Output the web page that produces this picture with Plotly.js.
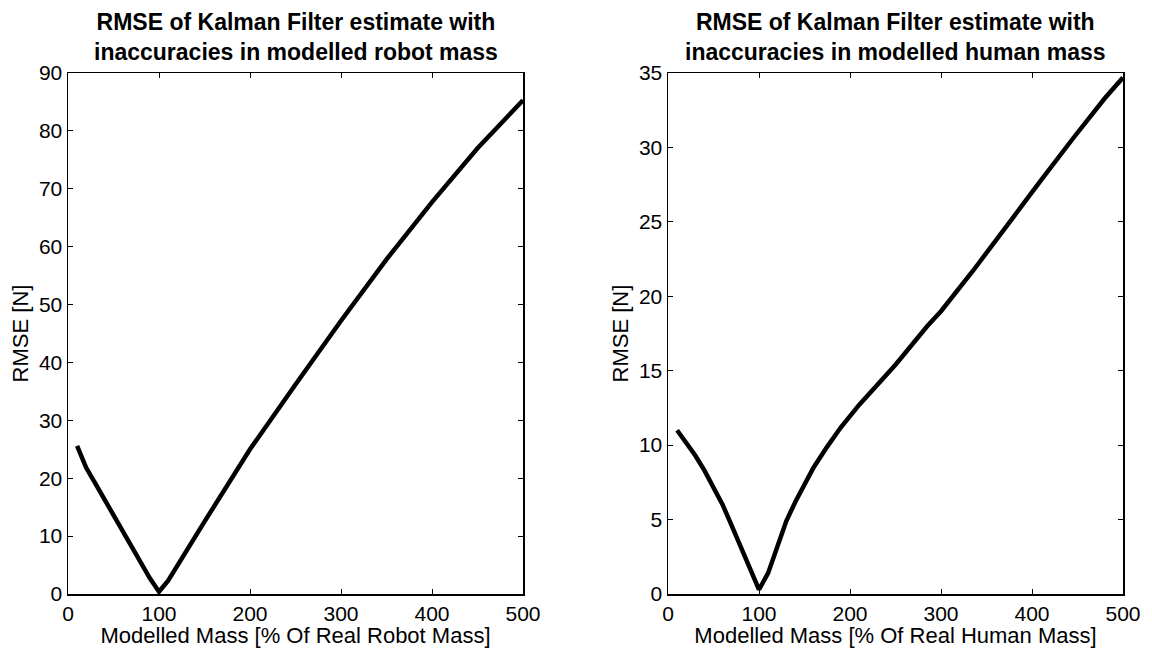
<!DOCTYPE html>
<html>
<head>
<meta charset="utf-8">
<script src="https://cdn.plot.ly/plotly-3.0.1.min.js"></script>
<style>html,body{margin:0;padding:0;background:#fff;}#chart{width:1152px;height:648px;}</style>
</head>
<body>
<div id="chart"></div>
<script>
// Left: robot mass
const robotMass = [10, 20, 30, 40, 50, 60, 70, 80, 90, 100, 110, 150, 200, 250, 300, 350, 400, 450, 500];
const robotRmse = [25.6, 21.8, 19.1, 16.35, 13.6, 10.9, 8.2, 5.45, 2.7, 0.4, 2.3, 12.5, 25.0, 36.2, 47.2, 57.8, 67.7, 77.0, 85.3];
// Right: human mass
const humanMass = [10, 20, 30, 40, 50, 60, 70, 80, 90, 100, 110, 120, 130, 140, 150, 160, 175, 190, 210, 250, 285, 300, 335, 370, 410, 445, 480, 500];
const humanRmse = [11.0, 10.2, 9.3, 8.3, 7.2, 6.0, 4.6, 3.2, 1.7, 0.3, 1.4, 3.2, 4.9, 6.2, 7.4, 8.5, 9.9, 11.2, 12.7, 15.4, 18.0, 19.0, 21.7, 24.6, 27.8, 30.6, 33.3, 34.7];

const titleLeft = ["RMSE of Kalman Filter estimate with", "inaccuracies in modelled robot mass"];
const titleRight = ["RMSE of Kalman Filter estimate with", "inaccuracies in modelled human mass"];
const xTitleLeft = "Modelled Mass [% Of Real Robot Mass]";
const xTitleRight = "Modelled Mass [% Of Real Human Mass]";
const yTitle = "RMSE [N]";

const FONT = "Liberation Sans, Arial, Helvetica, sans-serif";
const lineStyle = {color: "#000", width: 4.5};

const traces = [
  {x: robotMass, y: robotRmse, type: "scatter", mode: "lines", line: lineStyle, xaxis: "x", yaxis: "y", hoverinfo: "skip"},
  {x: humanMass, y: humanRmse, type: "scatter", mode: "lines", line: lineStyle, xaxis: "x2", yaxis: "y2", hoverinfo: "skip"}
];

function xax(domain, title, anchor) {
  return {
    domain: domain, anchor: anchor, range: [0, 500], dtick: 100, tick0: 0,
    ticks: "inside", ticklen: 5, tickwidth: 1, tickcolor: "#000",
    showline: true, linecolor: "#000", linewidth: 1.5, mirror: "ticks",
    showgrid: false, zeroline: false,
    tickfont: {family: FONT, size: 21, color: "#000"},
    title: {text: title, font: {family: FONT, size: 22, color: "#000"}, standoff: 0}
  };
}
function yax(domain, range, dtick, anchor) {
  return {
    domain: domain, anchor: anchor, range: range, dtick: dtick, tick0: 0,
    ticks: "inside", ticklen: 5, tickwidth: 1, tickcolor: "#000",
    showline: true, linecolor: "#000", linewidth: 1.5, mirror: "ticks",
    showgrid: false, zeroline: false,
    tickfont: {family: FONT, size: 21, color: "#000"},
    title: {text: yTitle, font: {family: FONT, size: 22, color: "#000"}, standoff: 4}
  };
}

const yDom = [54/648, 575/648];
const layout = {
  width: 1152, height: 648,
  margin: {l: 0, r: 0, t: 0, b: 0},
  paper_bgcolor: "#fff", plot_bgcolor: "#fff",
  showlegend: false,
  font: {family: FONT, color: "#000"},
  xaxis: xax([68/1152, 523/1152], xTitleLeft, "y"),
  yaxis: yax(yDom, [0, 90], 10, "x"),
  xaxis2: xax([668/1152, 1123/1152], xTitleRight, "y2"),
  yaxis2: yax(yDom, [0, 35], 5, "x2"),
  annotations: [
    {text: "<b>" + titleLeft.join("<br>") + "</b>", xref: "paper", yref: "paper",
     x: (68+523)/2/1152, y: 1 - 7/648, xanchor: "center", yanchor: "top", showarrow: false,
     font: {family: FONT, size: 23, color: "#000"}},
    {text: "<b>" + titleRight.join("<br>") + "</b>", xref: "paper", yref: "paper",
     x: (668+1123)/2/1152, y: 1 - 7/648, xanchor: "center", yanchor: "top", showarrow: false,
     font: {family: FONT, size: 23, color: "#000"}}
  ]
};

Plotly.newPlot("chart", traces, layout, {staticPlot: true, displayModeBar: false});
</script>
</body>
</html>
